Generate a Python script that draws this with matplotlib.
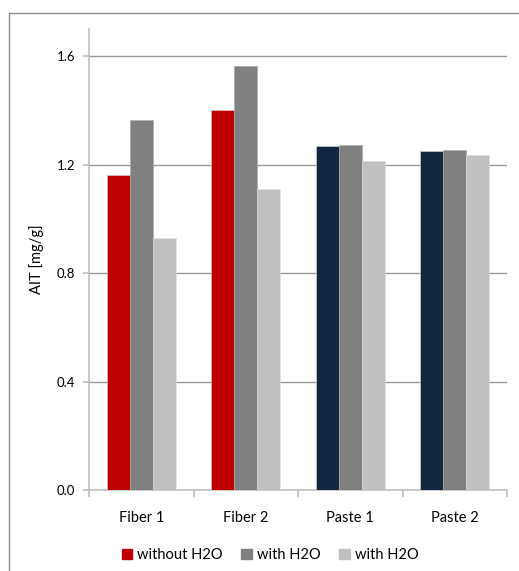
import matplotlib.pyplot as plt
import numpy as np
from matplotlib.patches import Rectangle, Patch

plt.rcParams['font.family'] = ['Lato', 'DejaVu Sans']

categories = ['Fiber 1', 'Fiber 2', 'Paste 1', 'Paste 2']
without_h2o = [1.16, 1.40, 1.268, 1.250]
with_h2o_a = [1.365, 1.562, 1.271, 1.252]
with_h2o_b = [0.928, 1.110, 1.212, 1.235]
series_labels = ['without H2O', 'with H2O', 'with H2O']

first_colors = ['#c00000', '#c00000', '#12263f', '#12263f']

fig = plt.figure(figsize=(5.19, 5.71), dpi=100)
ax = fig.add_axes([89 / 519, 1 - 490 / 571, 418 / 519, 461 / 571])

# outer chart frame
fig.add_artist(Rectangle((9 / 519, -0.1), 1.2, 1.1 - 13 / 571,
                         transform=fig.transFigure, fill=False,
                         edgecolor='#8c8c8c', linewidth=1.0))

x = np.arange(len(categories))
w = 0.22
ax.bar(x - w, without_h2o, w, color=first_colors, edgecolor='#d9d9d9', linewidth=0.4, zorder=3)
ax.bar(x, with_h2o_a, w, color='#808080', edgecolor='#a6a6a6', linewidth=0.4, zorder=3)
ax.bar(x + w, with_h2o_b, w, color='#c0c0c0', edgecolor='#e0e0e0', linewidth=0.4, zorder=3)

ax.set_xlim(-0.5, len(categories) - 0.5)
ax.set_ylim(0, 1.7)
ax.set_yticks([0.0, 0.4, 0.8, 1.2, 1.6])
ax.set_yticklabels(['0.0', '0.4', '0.8', '1.2', '1.6'])
ax.yaxis.grid(True, color='#999999', linewidth=1.0, zorder=0)

ax.set_xticks(x)
ax.set_xticklabels(categories)
ax.set_xticks(np.arange(-0.5, len(categories)), minor=True)
ax.tick_params(axis='x', which='major', length=0, pad=15, labelsize=10.5, colors='#000000')
ax.tick_params(axis='x', which='minor', length=5, width=1.2, color='#bfbfbf', direction='out')
ax.tick_params(axis='y', length=4, width=1.2, color='#bfbfbf', labelsize=9.5, pad=6)

for s in ['top', 'right']:
    ax.spines[s].set_visible(False)
ax.spines['left'].set_color('#bfbfbf')
ax.spines['bottom'].set_color('#bfbfbf')
ax.spines['left'].set_linewidth(1.2)
ax.spines['bottom'].set_linewidth(1.2)

ax.set_ylabel('AIT [mg/g]', fontsize=10.5, labelpad=9)

handles = [Patch(color='#c00000'), Patch(color='#808080'), Patch(color='#c0c0c0')]
fig.legend(handles, series_labels, loc='center', bbox_to_anchor=(270 / 519, 1 - 555 / 571),
           ncol=3, frameon=False, fontsize=10.5, handlelength=0.75, handleheight=0.75,
           handletextpad=0.3, columnspacing=1.3)

fig.savefig('out.png', dpi=100)
